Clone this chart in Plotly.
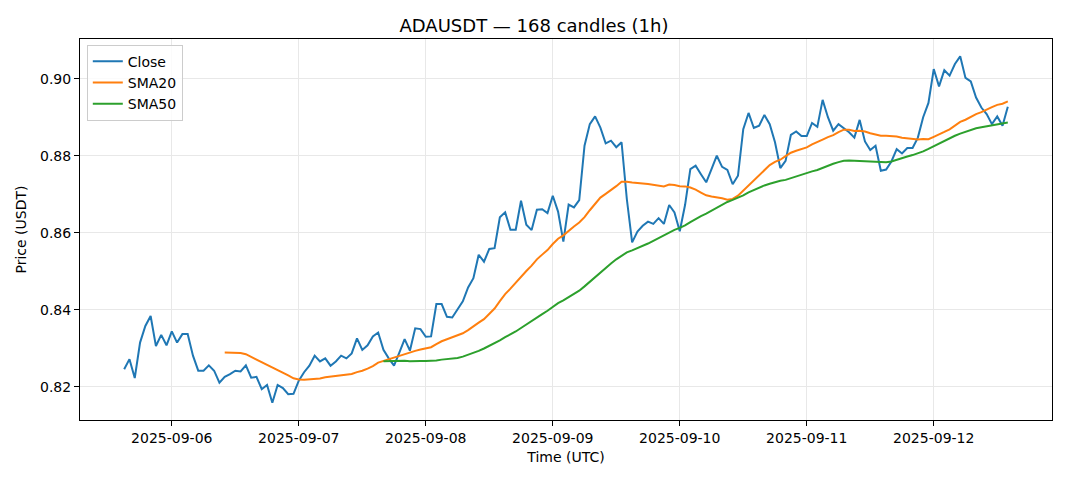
import pandas as pd
import plotly.graph_objects as go

start_time = "2025-09-05 15:00"
close = [
    0.8246, 0.8272, 0.8223, 0.8315, 0.8358, 0.8384, 0.8306, 0.8335, 0.8308, 0.8344,
    0.8315, 0.8337, 0.8337, 0.8281, 0.8242, 0.8242, 0.8256, 0.8242, 0.8211, 0.8226,
    0.8233, 0.8242, 0.8240, 0.8256, 0.8224, 0.8226, 0.8194, 0.8205, 0.8159, 0.8205,
    0.8197, 0.8181, 0.8182, 0.8216, 0.8238, 0.8255, 0.8281, 0.8266, 0.8274, 0.8255,
    0.8266, 0.8281, 0.8274, 0.8287, 0.8326, 0.8296, 0.8308, 0.8331, 0.8341, 0.8296,
    0.8274, 0.8255, 0.8289, 0.8324, 0.8294, 0.8352, 0.8350, 0.8330, 0.8331, 0.8415,
    0.8415, 0.8382, 0.8380, 0.8400, 0.8422, 0.8458, 0.8482, 0.8543, 0.8525, 0.8558,
    0.8560, 0.8640, 0.8653, 0.8608, 0.8608, 0.8683, 0.8621, 0.8607, 0.8660, 0.8661,
    0.8651, 0.8696, 0.8655, 0.8577, 0.8673, 0.8666, 0.8685, 0.8826, 0.8882, 0.8902,
    0.8873, 0.8832, 0.8839, 0.8822, 0.8835, 0.8687, 0.8575, 0.8603, 0.8618, 0.8629,
    0.8623, 0.8638, 0.8623, 0.8672, 0.8653, 0.8604, 0.8672, 0.8765, 0.8774, 0.8752,
    0.8731, 0.8765, 0.8800, 0.8771, 0.8763, 0.8726, 0.8748, 0.8869, 0.8911, 0.8872,
    0.8878, 0.8906, 0.8882, 0.8835, 0.8768, 0.8787, 0.8854, 0.8863, 0.8851, 0.8851,
    0.8885, 0.8875, 0.8945, 0.8900, 0.8865, 0.8882, 0.8872, 0.8861, 0.8847, 0.8893,
    0.8837, 0.8815, 0.8826, 0.8761, 0.8764, 0.8785, 0.8817, 0.8806, 0.8820, 0.8820,
    0.8847, 0.8900, 0.8937, 0.9025, 0.8980, 0.9022, 0.9008, 0.9038, 0.9058, 0.9002,
    0.8993, 0.8951, 0.8925, 0.8908, 0.8882, 0.8902, 0.8878, 0.8927,
]
y_ticks = [0.82, 0.84, 0.86, 0.88, 0.90]
x_tick_dates = ["2025-09-06", "2025-09-07", "2025-09-08", "2025-09-09",
                "2025-09-10", "2025-09-11", "2025-09-12"]

times = pd.date_range(start_time, periods=len(close), freq="h")
s = pd.Series(close, index=times)
sma20 = s.rolling(20).mean()
sma50 = s.rolling(50).mean()

fig = go.Figure()
fig.add_trace(go.Scatter(x=times, y=s.values, mode="lines", name="Close",
                         line=dict(color="#1f77b4", width=2)))
fig.add_trace(go.Scatter(x=times, y=sma20.values, mode="lines", name="SMA20",
                         line=dict(color="#ff7f0e", width=2)))
fig.add_trace(go.Scatter(x=times, y=sma50.values, mode="lines", name="SMA50",
                         line=dict(color="#2ca02c", width=2)))

span = times[-1] - times[0]
pad = span * 0.05
ymin, ymax = min(close), max(close)
ypad = (ymax - ymin) * 0.05

font = dict(family="DejaVu Sans", size=14, color="black")
fig.update_layout(
    width=1052, height=465,
    margin=dict(l=72, r=8, t=31, b=53, autoexpand=False),
    paper_bgcolor="white", plot_bgcolor="white",
    font=font,
    title=dict(text="ADAUSDT — 168 candles (1h)", x=0.5, xanchor="center",
               y=0.963, yanchor="middle", font=dict(family="DejaVu Sans", size=18)),
    showlegend=True,
    legend=dict(x=0.007, y=0.985, xanchor="left", yanchor="top",
                bgcolor="rgba(255,255,255,0.8)", bordercolor="#cccccc", borderwidth=1,
                font=dict(family="DejaVu Sans", size=14), tracegroupgap=0,
                itemwidth=30),
)
fig.update_xaxes(
    range=[times[0] - pad, times[-1] + pad],
    tickvals=pd.to_datetime(x_tick_dates), ticktext=x_tick_dates,
    showgrid=True, gridcolor="#e8e8e8", gridwidth=1,
    showline=True, linecolor="black", linewidth=1, mirror=True,
    ticks="outside", ticklen=5, tickcolor="black",
    title=dict(text="Time (UTC)", font=font, standoff=7),
    zeroline=False, automargin=False,
)
fig.update_yaxes(
    range=[ymin - ypad, ymax + ypad],
    tickvals=y_ticks, ticktext=[f"{v:.2f}" for v in y_ticks],
    showgrid=True, gridcolor="#e8e8e8", gridwidth=1,
    showline=True, linecolor="black", linewidth=1, mirror=True,
    ticks="outside", ticklen=5, tickcolor="black",
    title=dict(text="Price (USDT)", font=font, standoff=10),
    zeroline=False, automargin=False,
)
fig.write_html("out.html")
